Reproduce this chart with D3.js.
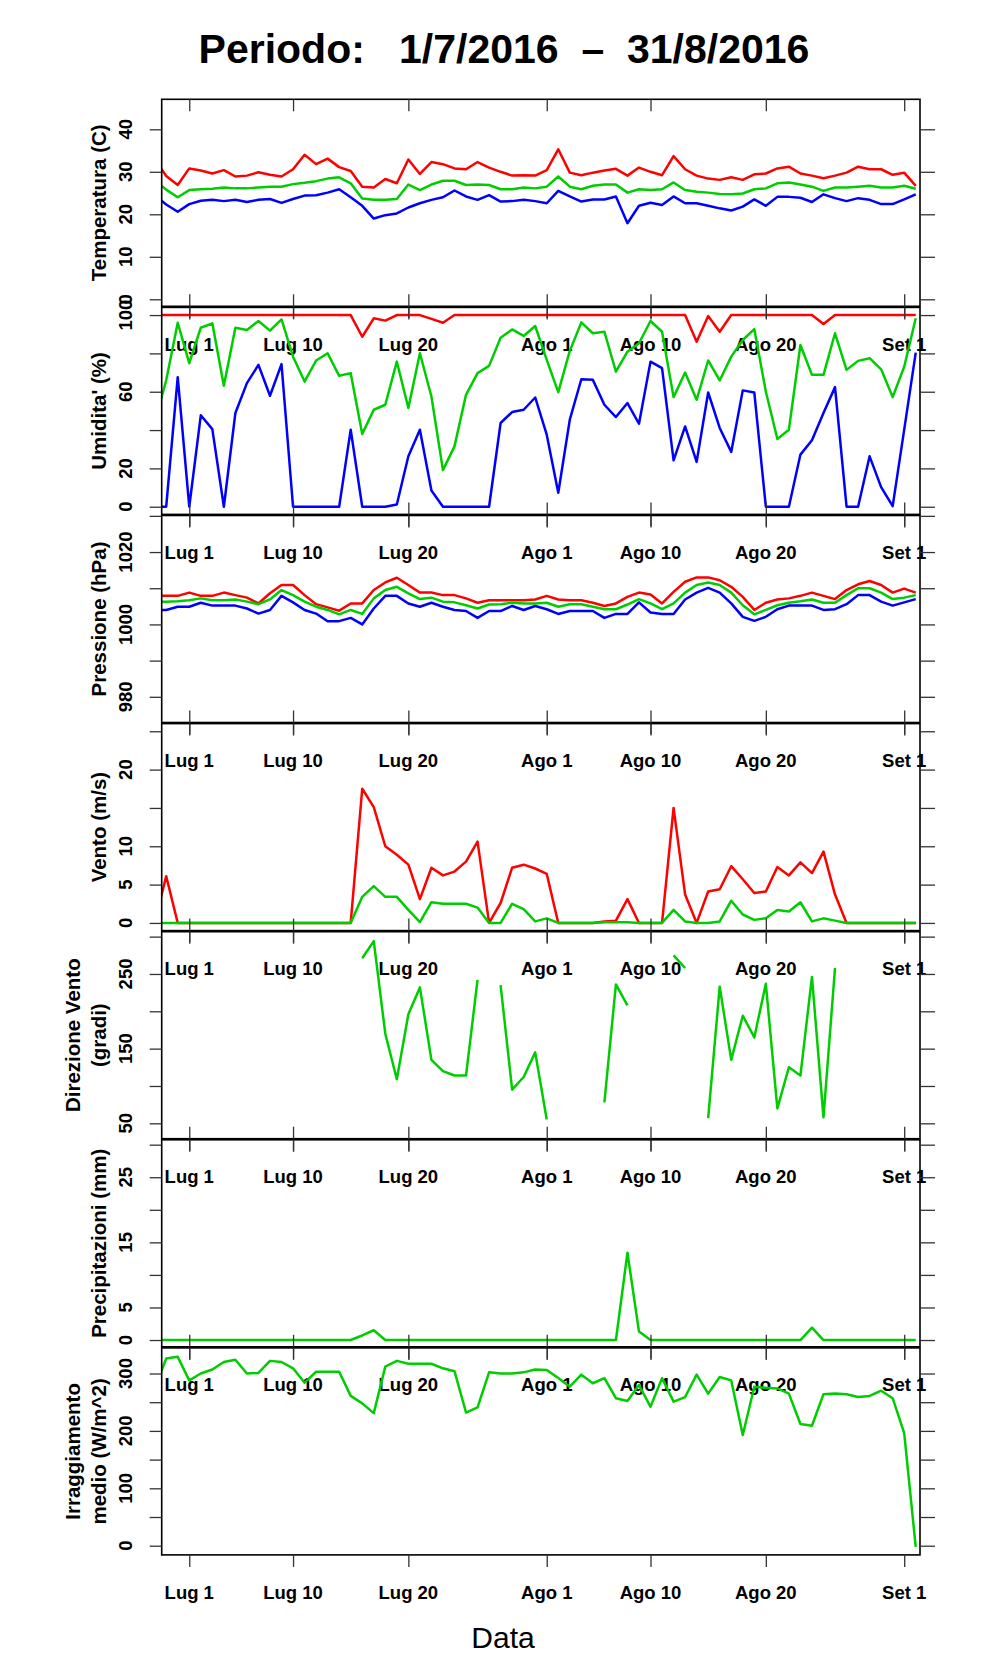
<!DOCTYPE html>
<html>
<head>
<meta charset="utf-8">
<script src="https://cdn.jsdelivr.net/npm/d3@7"></script>
<style>
  body { margin: 0; background: #fff; }
  text { font-family: "Liberation Sans", Arial, Helvetica, sans-serif; }
</style>
</head>
<body>
<svg id="chart"></svg>
<script>
// one value per day, from 28 Jun 2016 to 2 Sep 2016
const firstDay = new Date(2016, 5, 28);

const tempMax = [33.0, 29.0, 26.9, 30.8, 30.3, 29.6, 30.4, 28.9, 29.1, 29.9,
  29.3, 28.9, 30.6, 34.0, 31.8, 33.1, 31.1, 30.2, 26.5, 26.3,
  28.3, 27.3, 32.9, 29.5, 32.3, 31.8, 30.8, 30.6, 32.3, 31.0,
  30.0, 29.1, 29.2, 29.1, 30.4, 35.3, 29.8, 29.2, 29.8, 30.3,
  30.7, 29.1, 31.0, 30.0, 29.2, 33.7, 30.6, 29.1, 28.4, 28.1,
  28.7, 28.1, 29.4, 29.6, 30.8, 31.2, 29.6, 29.1, 28.5, 29.1,
  29.8, 31.2, 30.6, 30.6, 29.3, 29.8, 26.7];
const tempMean = [28.0, 25.8, 24.0, 25.7, 25.9, 26.0, 26.3, 26.1, 26.1, 26.3,
  26.5, 26.5, 27.1, 27.4, 27.8, 28.4, 28.7, 27.3, 23.7, 23.4,
  23.4, 23.6, 27.0, 25.7, 27.0, 27.9, 27.9, 26.9, 27.0, 26.9,
  25.9, 25.9, 26.3, 26.1, 26.5, 28.9, 26.5, 25.9, 26.7, 27.0,
  27.0, 25.1, 25.9, 25.7, 25.9, 27.5, 25.7, 25.3, 25.1, 24.8,
  24.7, 24.9, 25.9, 26.1, 27.3, 27.5, 27.0, 26.5, 25.5, 26.3,
  26.3, 26.5, 26.7, 26.3, 26.3, 26.7, 26.0];
const tempMin = [24.5, 22.3, 20.6, 22.4, 23.2, 23.4, 23.1, 23.4, 22.9, 23.4,
  23.6, 22.7, 23.6, 24.4, 24.5, 25.1, 25.9, 24.0, 22.0, 19.0,
  19.8, 20.2, 21.6, 22.6, 23.4, 24.0, 25.6, 24.2, 23.4, 24.5,
  23.0, 23.1, 23.4, 23.1, 22.6, 25.5, 24.2, 23.0, 23.5, 23.5,
  24.2, 17.9, 22.0, 22.7, 22.2, 24.2, 22.6, 22.6, 22.0, 21.4,
  20.9, 21.8, 23.5, 22.0, 24.1, 24.1, 23.9, 22.9, 24.7, 23.8,
  23.1, 23.8, 23.4, 22.4, 22.4, 23.5, 24.7];

const humMax = [100, 100, 100, 100, 100, 100, 100, 100, 100, 100,
  100, 100, 100, 100, 100, 100, 100, 100, 88.7, 98.3,
  97.1, 100, 100, 100, 98, 96, 100, 100, 100, 100,
  100, 100, 100, 100, 100, 100, 100, 100, 100, 100,
  100, 100, 100, 100, 100, 100, 100, 86.1, 99.5, 91.3,
  100, 100, 100, 100, 100, 100, 100, 100, 95.3, 100,
  100, 100, 100, 100, 100, 100, 100];
const humMean = [44, 66, 96, 74.9, 93.4, 95.7, 63.1, 93.4, 92.2, 96.9,
  91.9, 97.7, 78.3, 65.3, 76.3, 80.1, 68.3, 69.7, 38, 50.6,
  53.2, 75.7, 51.5, 80.1, 57.5, 19.1, 31.5, 58.4, 69.7, 73.5,
  88.2, 92.5, 89.1, 94.3, 76.6, 59.8, 81.3, 96.2, 90.5, 91.3,
  70.5, 80.9, 85.3, 96.9, 91.3, 57.2, 70.0, 55.8, 76.3, 65.9,
  78.3, 87.0, 92.7, 60.1, 35.3, 40.2, 84.4, 68.8, 68.8, 90.5,
  71.4, 76.1, 77.5, 71.7, 57.2, 73, 98.3];
const humMin = [0, 0, 67.6, 0, 47.7, 40.5, 0, 48.9, 64.5, 74.0,
  57.9, 74.4, 0, 0, 0, 0, 0, 40.2, 0, 0,
  0, 1.2, 26.3, 40.2, 8.5, 0, 0, 0, 0, 0,
  43.7, 49.4, 50.6, 57.0, 37.6, 7.3, 45.4, 66.5, 66.2, 53.2,
  46.8, 54.1, 43.3, 75.7, 72.3, 24.2, 41.9, 23.4, 59.6, 41.1,
  28.6, 60.7, 59.6, 0, 0, 0, 27.2, 34.7, 48.9, 62.4,
  0, 0, 26.3, 10.2, 0.3, 40.2, 80.4];

const pressMax = [1007.9, 1007.9, 1007.9, 1008.8, 1007.9, 1007.9, 1008.8, 1008.1, 1007.4, 1005.8,
  1008.6, 1010.9, 1010.9, 1008.1, 1005.6, 1004.7, 1003.8, 1005.8, 1005.8, 1009.5,
  1011.6, 1012.9, 1010.9, 1008.8, 1008.8, 1008.1, 1008.1, 1007.2, 1006.0, 1006.7,
  1006.7, 1006.7, 1006.7, 1006.9, 1007.9, 1006.9, 1006.7, 1006.7, 1006.0, 1005.1,
  1005.8, 1007.6, 1008.8, 1008.3, 1005.8, 1009.0, 1011.8, 1013.0, 1013.0, 1012.2,
  1010.4, 1007.6, 1004.0, 1006.0, 1006.9, 1007.2, 1007.9, 1008.8, 1007.9, 1007.0,
  1009.5, 1011.1, 1012.0, 1010.9, 1008.8, 1009.9, 1008.8];
const pressMean = [1006.3, 1006.3, 1006.4, 1006.7, 1007.2, 1006.7, 1006.7, 1006.9, 1006.3, 1005.6,
  1006.9, 1009.5, 1008.1, 1006.3, 1004.9, 1004.0, 1002.8, 1004.0, 1002.9, 1007.2,
  1009.5, 1010.4, 1008.6, 1007.0, 1007.4, 1006.3, 1006.1, 1005.3, 1004.4, 1005.5,
  1005.6, 1006.0, 1005.8, 1005.8, 1006.0, 1004.9, 1005.6, 1005.6, 1004.9, 1004.2,
  1004.2, 1005.5, 1007.0, 1005.8, 1004.2, 1005.8, 1008.8, 1010.9, 1011.6, 1010.9,
  1008.8, 1005.3, 1002.8, 1004.0, 1005.3, 1006.0, 1006.4, 1006.9, 1006.0, 1006.0,
  1008.1, 1010.0, 1010.0, 1008.8, 1007.0, 1007.4, 1008.1];
const pressMin = [1004.0, 1004.0, 1004.9, 1004.9, 1006.0, 1005.2, 1005.2, 1005.2, 1004.4, 1003.0,
  1004.0, 1007.9, 1006.1, 1004.0, 1003.0, 1000.9, 1000.9, 1001.8, 1000.0, 1004.4,
  1007.9, 1007.9, 1005.8, 1004.9, 1006.0, 1004.9, 1004.0, 1003.7, 1001.8, 1003.7,
  1003.7, 1005.1, 1004.0, 1005.1, 1004.2, 1002.9, 1003.7, 1003.7, 1003.7, 1001.8,
  1002.9, 1002.9, 1006.1, 1003.3, 1002.9, 1002.9, 1006.9, 1008.8, 1010.1, 1008.8,
  1005.8, 1002.1, 1001.0, 1002.1, 1004.2, 1005.2, 1005.2, 1005.2, 1004.0, 1004.2,
  1005.6, 1008.1, 1008.1, 1006.3, 1005.2, 1006.1, 1007.0];

const windMax = [0, 6.1, 0, 0, 0, 0, 0, 0, 0, 0,
  0, 0, 0, 0, 0, 0, 0, 0, 17.5, 15.1,
  10.0, 8.9, 7.6, 3.1, 7.2, 6.2, 6.7, 8.0, 10.6, 0,
  2.6, 7.2, 7.6, 7.1, 6.4, 0, 0, 0, 0, 0.2,
  0.3, 3.1, 0, 0, 0, 15.0, 3.7, 0, 4.1, 4.4,
  7.4, 5.7, 3.9, 4.1, 7.3, 6.2, 7.9, 6.5, 9.3, 3.7,
  0, 0, 0, 0, 0, 0, 0];
const windMean = [0, 0, 0, 0, 0, 0, 0, 0, 0, 0,
  0, 0, 0, 0, 0, 0, 0, 0, 3.4, 4.8,
  3.4, 3.4, 1.7, 0.1, 2.7, 2.5, 2.5, 2.5, 2.0, 0,
  0, 2.5, 1.8, 0.2, 0.6, 0, 0, 0, 0, 0.1,
  0.1, 0.1, 0, 0, 0, 1.7, 0.2, 0, 0, 0.2,
  2.9, 1.1, 0.4, 0.6, 1.7, 1.5, 2.7, 0.2, 0.6, 0.3,
  0, 0, 0, 0, 0, 0, 0];
const windDir = [null, null, null, null, null, null, null, null, null, null,
  null, null, null, null, null, null, null, null, 271, 294,
  170, 109, 196, 232, 135, 120, 114, 114, 242, null,
  235, 95, 112, 145, 55, null, null, null, null, 78,
  236, 208, null, null, null, 275, 258, null, 57, 233,
  135, 194, 165, 237, 70, 125, 114, 246, 58, 258,
  null, null, null, null, null, null, null];

const rain = [0, 0, 0, 0, 0, 0, 0, 0, 0, 0,
  0, 0, 0, 0, 0, 0, 0, 0, 0.7, 1.5,
  0, 0, 0, 0, 0, 0, 0, 0, 0, 0,
  0, 0, 0, 0, 0, 0, 0, 0, 0, 0,
  0, 13.4, 1.3, 0, 0, 0, 0, 0, 0, 0,
  0, 0, 0, 0, 0, 0, 0, 1.9, 0, 0,
  0, 0, 0, 0, 0, 0, 0];
const radiation = [274, 326, 329, 288, 300, 307, 320, 324, 300, 301,
  322, 320, 309, 284, 303, 303, 303, 261, 248, 231,
  312, 322, 317, 317, 317, 309, 304, 232, 241, 302,
  300, 300, 302, 307, 306, 292, 277, 298, 283, 292,
  257, 252, 280, 242, 292, 251, 259, 298, 265, 294,
  288, 193, 277, 275, 274, 265, 212, 209, 264, 265,
  264, 259, 261, 270, 257, 196, -2];

const tickDates = [new Date(2016, 6, 1), new Date(2016, 6, 10), new Date(2016, 6, 20),
  new Date(2016, 7, 1), new Date(2016, 7, 10), new Date(2016, 7, 20), new Date(2016, 8, 1)];
const tickLabels = ["Lug 1", "Lug 10", "Lug 20", "Ago 1", "Ago 10", "Ago 20", "Set 1"];

const RED = "#ff0000", GREEN = "#00cd00", BLUE = "#0000ff";

const panels = [
  { series: [[tempMax, RED], [tempMean, GREEN], [tempMin, BLUE]], domain: [-1.65, 47.06],
    ticks: [0, 10, 20, 30, 40], labels: [0, 10, 20, 30, 40], title: ["Temperatura (C)"] },
  { series: [[humMax, RED], [humMean, GREEN], [humMin, BLUE]], domain: [-4, 104],
    ticks: [0, 20, 40, 60, 80, 100], labels: [0, 20, 60, 100], title: ["Umidita' (%)"] },
  { series: [[pressMax, RED], [pressMean, GREEN], [pressMin, BLUE]], domain: [972.9, 1030.1],
    ticks: [980, 990, 1000, 1010, 1020, 1030], labels: [980, 1000, 1020], title: ["Pressione (hPa)"] },
  { series: [[windMax, RED], [windMean, GREEN]], domain: [-1, 26],
    ticks: [0, 5, 10, 15, 20, 25], labels: [0, 5, 10, 20], title: ["Vento (m/s)"] },
  { series: [[windDir, GREEN]], domain: [29.4, 306.6],
    ticks: [50, 100, 150, 200, 250, 300], labels: [50, 150, 250], title: ["Direzione Vento", "(gradi)"] },
  { series: [[rain, GREEN]], domain: [-1.04, 30.75],
    ticks: [0, 5, 10, 15, 20, 25, 30], labels: [0, 5, 15, 25], title: ["Precipitazioni (mm)"] },
  { series: [[radiation, GREEN]], domain: [-16, 344.6],
    ticks: [0, 50, 100, 150, 200, 250, 300], labels: [0, 100, 200, 300], title: ["Irraggiamento", "medio (W/m^2)"] }
];

const W = 996, H = 1680;
const left = 161.7, right = 920, top0 = 99.3, step = 208.1, ph = 207;
const dayMs = 864e5;
const jul1 = new Date(2016, 6, 1);

const svg = d3.select("#chart").attr("width", W).attr("height", H);
svg.append("rect").attr("width", W).attr("height", H).attr("fill", "#fff");

const dates = tempMax.map((v, i) => d3.timeDay.offset(firstDay, i));
const x = d3.scaleTime()
  .domain([new Date(+jul1 - 2.39 * dayMs), new Date(+jul1 + 63.37 * dayMs)])
  .range([left, right]);

// title
svg.append("text")
  .attr("x", 504).attr("y", 63)
  .attr("text-anchor", "middle")
  .attr("font-size", 41).attr("font-weight", "bold")
  .style("white-space", "pre")
  .text("Periodo:   1/7/2016  \u2013  31/8/2016");

panels.forEach(function (p, i) {
  const top = top0 + i * step, bottom = top + ph;
  const y = d3.scaleLinear().domain(p.domain).range([bottom, top]);
  const g = svg.append("g");

  g.append("clipPath").attr("id", "clip" + i)
    .append("rect").attr("x", left).attr("y", top).attr("width", right - left).attr("height", ph);

  p.series.forEach(function (s) {
    const line = d3.line()
      .defined(v => v !== null)
      .x((v, j) => x(dates[j]))
      .y(v => y(v));
    g.append("path")
      .attr("clip-path", "url(#clip" + i + ")")
      .attr("d", line(s[0]))
      .attr("fill", "none")
      .attr("stroke", s[1])
      .attr("stroke-width", 2.5)
      .attr("stroke-linejoin", "round");
  });

  g.append("rect")
    .attr("x", left).attr("y", top).attr("width", right - left).attr("height", ph)
    .attr("fill", "none").attr("stroke", "#000").attr("stroke-width", 1.6);

  const ticksIn = p.ticks.filter(t => t >= p.domain[0] && t <= p.domain[1]);

  // y ticks, left (outside) and right (outside)
  const yl = g.append("g").attr("transform", "translate(" + left + ",0)")
    .call(d3.axisLeft(y).tickValues(ticksIn).tickSize(12).tickFormat(""));
  const yr = g.append("g").attr("transform", "translate(" + right + ",0)")
    .call(d3.axisRight(y).tickValues(ticksIn).tickSize(15).tickFormat(""));

  // x ticks, top (inward) and bottom
  const xt = g.append("g").attr("transform", "translate(0," + top + ")")
    .call(d3.axisBottom(x).tickValues(tickDates).tickSize(12).tickFormat(""));
  const last = i === panels.length - 1;
  const xb = g.append("g").attr("transform", "translate(0," + (last ? bottom : bottom - 12) + ")")
    .call(d3.axisBottom(x).tickValues(tickDates).tickSize(last ? 12 : 24).tickFormat(""));

  [yl, yr, xt, xb].forEach(a => {
    a.select(".domain").remove();
    a.selectAll("line").attr("stroke", "#333").attr("stroke-width", 1.3);
  });

  // y tick labels (rotated, parallel to the axis)
  g.selectAll(".ylab").data(p.labels).enter().append("text")
    .attr("transform", d => "translate(132," + y(d) + ") rotate(-90)")
    .attr("text-anchor", "middle")
    .attr("font-size", 18.5).attr("font-weight", "bold")
    .text(d => d);

  // x tick labels under the panel
  g.selectAll(".xlab").data(tickDates).enter().append("text")
    .attr("x", d => x(d)).attr("y", bottom + 44.5)
    .attr("text-anchor", "middle")
    .attr("font-size", 18.5).attr("font-weight", "bold")
    .text((d, k) => tickLabels[k]);

  // panel title
  const cy = (top + bottom) / 2;
  const xs = p.title.length === 1 ? [106] : [80, 106];
  p.title.forEach(function (t, k) {
    g.append("text")
      .attr("transform", "translate(" + xs[k] + "," + cy + ") rotate(-90)")
      .attr("text-anchor", "middle")
      .attr("font-size", 20.5).attr("font-weight", "bold")
      .text(t);
  });
});

svg.append("text")
  .attr("x", 503).attr("y", 1648)
  .attr("text-anchor", "middle")
  .attr("font-size", 30)
  .text("Data");
</script>
</body>
</html>
